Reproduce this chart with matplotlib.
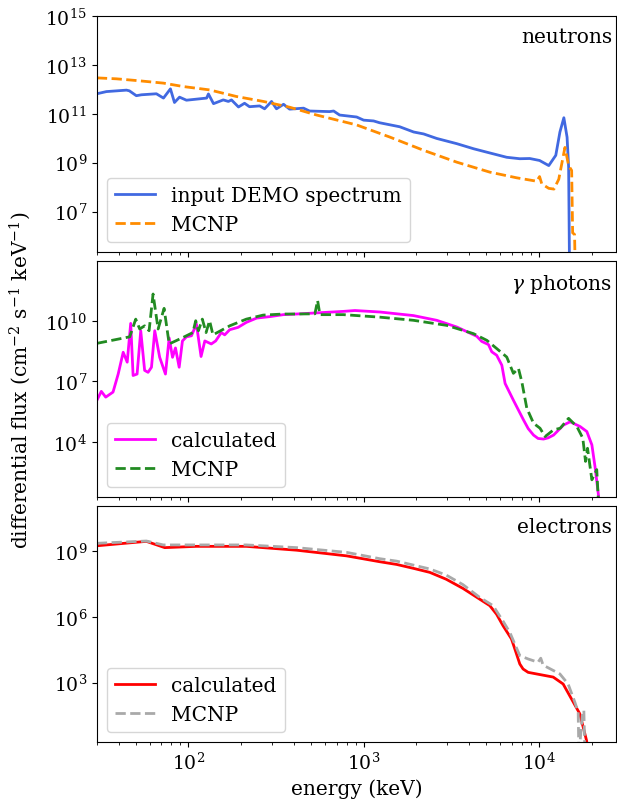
import numpy as np
import matplotlib
matplotlib.use('Agg')
import matplotlib.pyplot as plt
from matplotlib.ticker import NullLocator, FixedLocator

plt.rcParams['font.family'] = 'DejaVu Serif'
plt.rcParams['mathtext.fontset'] = 'dejavuserif'
plt.rcParams['font.size'] = 14.5
plt.rcParams['xtick.labelsize'] = 13.5
plt.rcParams['ytick.labelsize'] = 13.5

# neutron spectrum: DEMO input and MCNP tally
E_n_in = [30, 34.0, 44.3, 46.0, 50.4, 53.9, 65.6, 72.0, 78.9, 83.2, 88.9, 97.4,
          127, 130, 139, 158, 169, 176, 193, 209, 223, 255, 272, 298, 318, 349,
          378, 454, 491, 639, 674, 729, 912, 1000, 1140, 1234, 1606, 1930, 2200,
          2613, 3400, 4250, 5250, 6560, 7790, 8880, 10100, 11400, 12500, 13200,
          13900, 14500, 14800, 15000, 15300]
F_n_in = [6.6e11, 8.1e11, 9.3e11, 8.7e11, 5.5e11, 6.0e11, 6.6e11, 4.4e11, 1.05e12,
          2.9e11, 4.8e11, 3.6e11, 4.4e11, 6.5e11, 2.6e11, 3.7e11, 3.2e11, 3.7e11,
          1.9e11, 2.7e11, 1.95e11, 2.1e11, 1.6e11, 3.2e11, 1.6e11, 2.45e11, 1.55e11,
          1.7e11, 1.3e11, 1.23e11, 1.3e11, 8.9e10, 7.4e10, 5.5e10, 5.1e10, 4.3e10,
          2.95e10, 1.8e10, 1.5e10, 9.8e9, 6.0e9, 3.7e9, 2.5e9, 1.66e9, 1.45e9,
          1.48e9, 1.23e9, 7.6e8, 2.0e9, 1.8e10, 6.9e10, 1.1e10, 6.5e8, 1e4, 1e3]

E_n_mc = [30, 38.8, 50.4, 72, 93.7, 132, 188, 268, 378, 539, 912, 1409, 2200,
          3400, 5250, 7480, 9740, 10100, 10400, 11400, 12200, 13000, 14100,
          14800, 15400, 15600, 16000, 16300]
F_n_mc = [2.95e12, 2.7e12, 2.3e12, 1.8e12, 1.3e12, 9.5e11, 5.1e11, 3.2e11, 1.86e11,
          8.9e10, 3.5e10, 1.12e10, 3.2e9, 1.05e9, 4.1e8, 2.4e8, 1.74e8, 2.7e8,
          1.35e8, 8.9e7, 8.3e7, 2.1e8, 4.2e9, 7.6e8, 4.8e8, 1.35e6, 1.15e6, 1e3]

# gamma photon spectrum
E_g_calc = [30, 31.8, 33.7, 37.1, 39.7, 42.4, 44.7, 46.8, 48.3, 50.9, 53.4, 56.2,
            58.8, 61.5, 64.2, 68.5, 73.9, 77.6, 81.1, 84.3, 88.5, 92.4, 97.4, 104,
            111, 118, 124, 135, 143, 154, 161, 172, 192, 214, 245, 292, 348, 414,
            766, 892, 1240, 1923, 2613, 3400, 4425, 4720, 5160, 5390, 5750, 6150,
            6420, 7160, 8180, 8700, 9330, 9900, 10640, 11300, 12140, 13840, 15100,
            17220, 18800, 20090, 20990, 21940, 22300]
F_g_calc = [1.15e6, 3.2e6, 1.66e6, 2.95e6, 2.3e7, 2.75e8, 8.9e7, 7.4e9, 1.95e7,
            2.3e7, 3.2e9, 3.5e7, 2.8e7, 5.0e7, 3.2e9, 1.55e8, 2.3e7, 1.4e9, 1.55e8,
            4.5e8, 5.0e7, 1.0e9, 1.6e9, 1.8e9, 6.9e9, 1.7e8, 1.0e9, 7.1e8, 1.0e9,
            2.6e9, 2.0e9, 3.6e9, 4.7e9, 8.3e9, 1.35e10, 1.6e10, 2.0e10, 2.15e10,
            2.9e10, 3.2e10, 2.7e10, 1.8e10, 1.05e10, 4.9e9, 1.7e9, 9.5e8, 6.6e8,
            2.9e8, 1.95e8, 6.3e7, 7.9e6, 1.17e6, 1.23e5, 4.6e4, 2.2e4, 1.5e4,
            1.4e4, 1.6e4, 2.2e4, 6.9e4, 1.0e5, 5.8e4, 3.3e4, 7.2e3, 5.1e2, 21, 1]

E_g_mc = [30, 46.2, 50.0, 52.7, 56.2, 59.6, 62.8, 67.1, 72.6, 77.6, 93.3, 106,
          110, 114, 120, 126, 132, 138, 172, 214, 267, 348, 414, 527, 546, 563,
          766, 1240, 1923, 2980, 4235, 5050, 5750, 6560, 7160, 7650, 8000, 8540,
          9330, 10160, 10860, 12140, 13250, 14790, 16500, 17830, 18480, 18970,
          20090, 21420, 21940, 22300]
F_g_mc = [7.6e8, 1.6e9, 1.2e10, 3.9e9, 5.6e9, 3.2e9, 2.1e11, 3.9e9, 4.1e10, 7.1e8,
          1.5e9, 2.6e9, 1.0e10, 3.2e9, 1.2e10, 2.6e9, 1.0e10, 2.0e9, 5.6e9, 1.2e10,
          1.9e10, 2.15e10, 2.15e10, 2.2e10, 1.0e11, 2.0e10, 2.0e10, 1.5e10,
          1.05e10, 5.9e9, 2.3e9, 1.07e9, 4.2e8, 1.6e8, 2.5e7, 4.4e7, 9.5e6, 4.7e5,
          8.5e4, 4.8e4, 1.86e4, 4.0e4, 4.8e4, 1.48e5, 5.8e4, 1.55e4, 1.1e3, 4.9e3,
          135, 430, 8, 1]

# electron spectrum
E_e_calc = [30, 57.5, 73.2, 111, 214, 414, 800, 1234, 1544, 1910, 2383, 2960,
            3690, 4600, 5250, 5740, 6250, 6980, 7300, 7790, 8130, 8690, 9700,
            12080, 13770, 15380, 17150, 18740, 19200]
F_e_calc = [1.7e9, 2.7e9, 1.4e9, 1.6e9, 1.6e9, 1.07e9, 5.9e8, 3.2e8, 2.4e8,
            1.62e8, 1.05e8, 5.1e7, 1.95e7, 6.3e6, 3.2e6, 1.3e6, 3.9e5, 9.8e4,
            3.4e4, 7.1e3, 4.2e3, 2.95e3, 2.5e3, 1.8e3, 8.7e2, 1.8e2, 38, 2.3, 0.5]

E_e_mc = [30, 57.5, 71.7, 214, 414, 800, 1234, 1544, 2383, 2960, 3690, 4600, 5480,
          6250, 6830, 7790, 8690, 9900, 10260, 10580, 13190, 14700, 16060, 16780,
          16940, 17780, 18080, 18330]
F_e_mc = [2.2e9, 2.8e9, 1.86e9, 1.86e9, 1.4e9, 8.5e8, 4.4e8, 3.4e8, 1.5e8, 7.9e7,
          2.9e7, 7.6e6, 3.2e6, 6.3e5, 1.95e5, 1.7e4, 1.2e4, 8.5e3, 1.3e4, 6.3e3,
          2.5e3, 8.7e2, 1.3e2, 45, 0.5, 45, 54, 0.5]

fig, axes = plt.subplots(3, 1, sharex=True, figsize=(6.17, 8.12), dpi=100)
plt.subplots_adjust(left=0.157, right=0.998, top=0.979, bottom=0.085, hspace=0.038)
ax1, ax2, ax3 = axes
for ax in axes:
    ax.set_xscale('log')
    ax.set_yscale('log')

ax1.plot(E_n_in, F_n_in, color='royalblue', lw=2, label='input DEMO spectrum')
ax1.plot(E_n_mc, F_n_mc, '--', color='darkorange', lw=2, label='MCNP')
ax1.set_ylim(2.2e5, 1e15)
ax1.yaxis.set_major_locator(FixedLocator([1e7, 1e9, 1e11, 1e13, 1e15]))
ax1.text(0.993, 0.955, 'neutrons', ha='right', va='top', transform=ax1.transAxes)

ax2.plot(E_g_calc, F_g_calc, color='magenta', lw=2, label='calculated')
ax2.plot(E_g_mc, F_g_mc, '--', color='forestgreen', lw=2, label='MCNP')
ax2.set_ylim(19, 9e12)
ax2.yaxis.set_major_locator(FixedLocator([1e4, 1e7, 1e10]))
ax2.text(0.993, 0.955, r'$\gamma$ photons', ha='right', va='top', transform=ax2.transAxes)

ax3.plot(E_e_calc, F_e_calc, color='red', lw=2, label='calculated')
ax3.plot(E_e_mc, F_e_mc, '--', color='darkgray', lw=2, label='MCNP')
ax3.set_ylim(2, 1.1e11)
ax3.yaxis.set_major_locator(FixedLocator([1e3, 1e6, 1e9]))
ax3.text(0.993, 0.955, 'electrons', ha='right', va='top', transform=ax3.transAxes)

for ax in axes:
    ax.yaxis.set_minor_locator(NullLocator())
    ax.legend(loc='lower left')

ax3.set_xlim(30, 2.75e4)
ax3.set_xlabel('energy (keV)')
fig.text(0.033, 0.531, r'differential flux (cm$^{-2}$ s$^{-1}$ keV$^{-1}$)',
         rotation=90, ha='center', va='center')

plt.savefig('out.png', dpi=100)
